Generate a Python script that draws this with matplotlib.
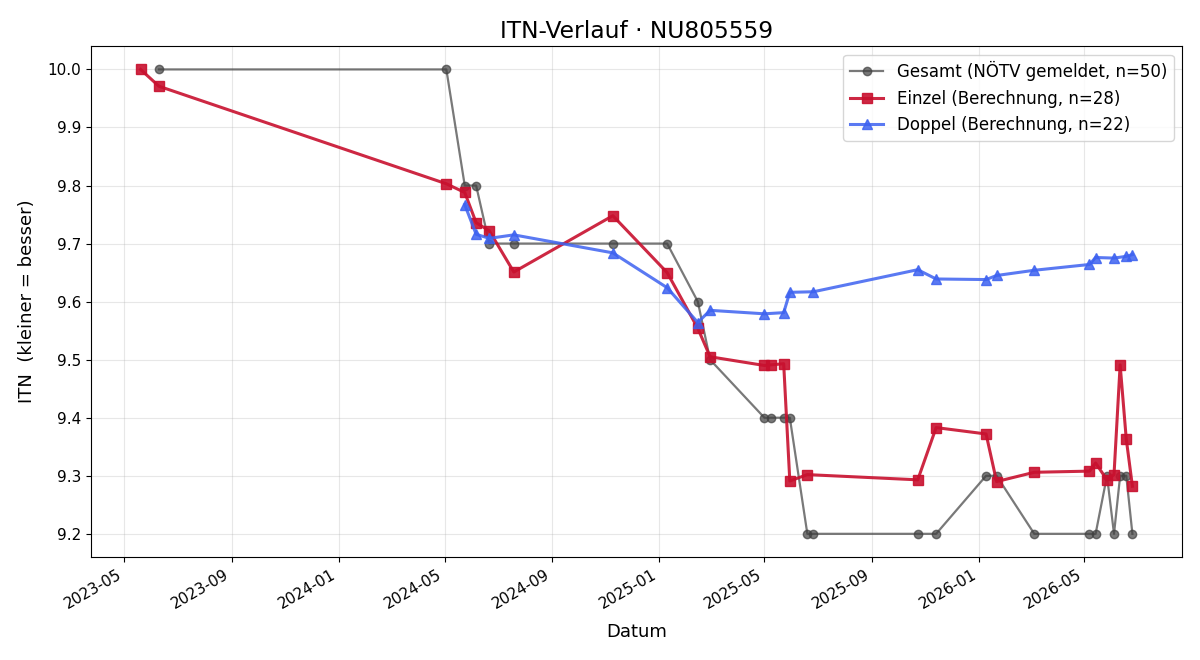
import matplotlib
matplotlib.use("Agg")
import matplotlib.pyplot as plt
import matplotlib.dates as mdates
import pandas as pd

# Gesamt (NOeTV gemeldet)
gesamt_dates = ["2023-06-10", "2024-05-03", "2024-05-24", "2024-06-06",
                "2024-06-21", "2024-07-19", "2024-11-09", "2025-01-10", "2025-02-14",
                "2025-02-28", "2025-05-01", "2025-05-08", "2025-05-23", "2025-05-30",
                "2025-06-19", "2025-06-26", "2025-10-23", "2025-11-13", "2026-01-09",
                "2026-01-21", "2026-03-05", "2026-05-07", "2026-05-14", "2026-05-27",
                "2026-06-04", "2026-06-11", "2026-06-18", "2026-06-25"]
gesamt_values = [10.0, 10.0, 9.8, 9.8,
                 9.7, 9.7, 9.7, 9.7, 9.6,
                 9.5, 9.4, 9.4, 9.4, 9.4,
                 9.2, 9.2, 9.2, 9.2, 9.3,
                 9.3, 9.2, 9.2, 9.2, 9.3,
                 9.2, 9.3, 9.3, 9.2]

# Einzel (Berechnung)
einzel_dates = ["2023-05-20", "2023-06-10", "2024-05-03", "2024-05-24", "2024-06-06",
                "2024-06-21", "2024-07-19", "2024-11-09", "2025-01-10", "2025-02-14",
                "2025-02-28", "2025-05-01", "2025-05-08", "2025-05-23", "2025-05-30",
                "2025-06-19", "2025-10-23", "2025-11-13", "2026-01-09", "2026-01-21",
                "2026-03-05", "2026-05-07", "2026-05-14", "2026-05-27", "2026-06-04",
                "2026-06-11", "2026-06-18", "2026-06-25"]
einzel_values = [10.0, 9.971, 9.803, 9.788, 9.736,
                 9.722, 9.651, 9.748, 9.650, 9.554,
                 9.505, 9.490, 9.491, 9.493, 9.291,
                 9.302, 9.293, 9.383, 9.372, 9.290,
                 9.306, 9.308, 9.322, 9.293, 9.302,
                 9.491, 9.363, 9.282]

# Doppel (Berechnung)
doppel_dates = ["2024-05-24", "2024-06-06", "2024-06-21", "2024-07-19", "2024-11-09",
                "2025-01-10", "2025-02-14", "2025-02-28", "2025-05-01", "2025-05-23",
                "2025-05-30", "2025-06-26", "2025-10-23", "2025-11-13", "2026-01-09",
                "2026-01-21", "2026-03-05", "2026-05-07", "2026-05-14", "2026-06-04",
                "2026-06-18", "2026-06-25"]
doppel_values = [9.767, 9.716, 9.709, 9.715, 9.684,
                 9.624, 9.564, 9.585, 9.579, 9.581,
                 9.616, 9.617, 9.655, 9.639, 9.638,
                 9.645, 9.654, 9.664, 9.676, 9.675,
                 9.678, 9.681]

fig, ax = plt.subplots(figsize=(12, 6.6), dpi=100)

ax.plot(pd.to_datetime(gesamt_dates), gesamt_values, marker="o", markersize=6,
        color="#404040", alpha=0.7, linewidth=1.6,
        label="Gesamt (NÖTV gemeldet, n=50)")
ax.plot(pd.to_datetime(einzel_dates), einzel_values, marker="s", markersize=7,
        color="#c8102e", alpha=0.9, linewidth=2.2,
        label="Einzel (Berechnung, n=28)")
ax.plot(pd.to_datetime(doppel_dates), doppel_values, marker="^", markersize=7,
        color="#3d62f0", alpha=0.85, linewidth=2.2,
        label="Doppel (Berechnung, n=22)")

ax.xaxis.set_major_locator(mdates.MonthLocator(bymonth=[1, 5, 9]))
ax.xaxis.set_major_formatter(mdates.DateFormatter("%Y-%m"))
fig.autofmt_xdate()

ax.set_title("ITN-Verlauf · NU805559", fontsize=16.8)
ax.set_xlabel("Datum", fontsize=13, labelpad=8)
ax.set_ylabel("ITN  (kleiner = besser)", fontsize=13, labelpad=8.5)
ax.tick_params(labelsize=11)
ax.grid(True, alpha=0.3)
ax.legend(loc="upper right", fontsize=12)

plt.subplots_adjust(left=0.0758, right=0.985, top=0.930, bottom=0.156)
plt.savefig("out.png")
plt.close()
